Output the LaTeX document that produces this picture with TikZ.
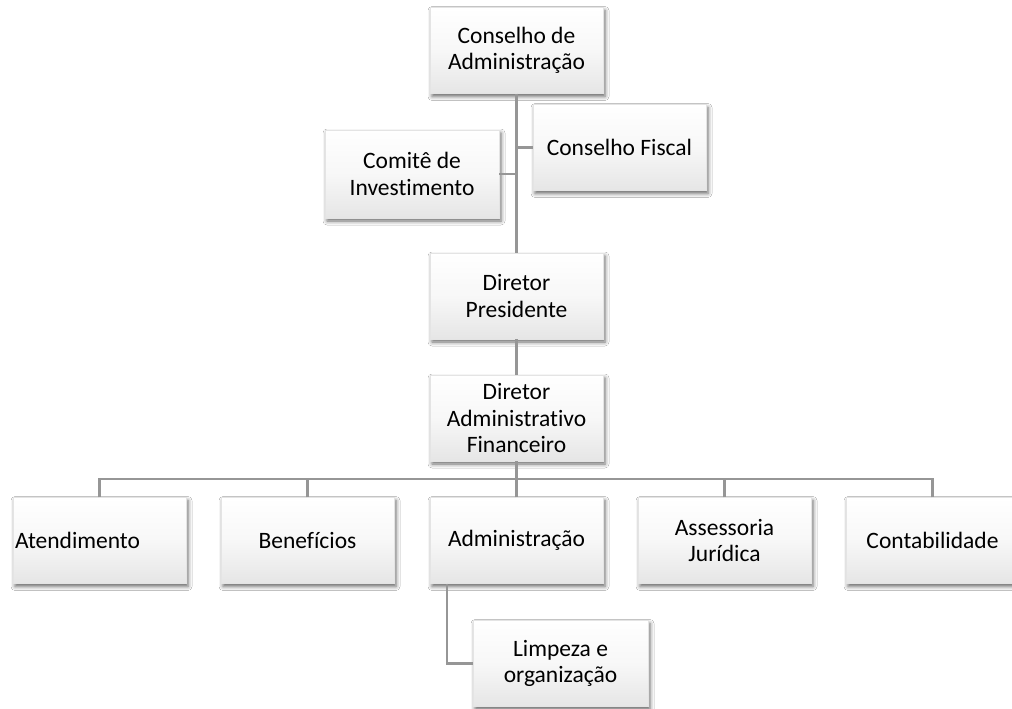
\documentclass[tikz,border=0pt]{standalone}
\usepackage{fontspec}
\setmainfont{Carlito}[Ligatures=CommonOff]
\usetikzlibrary{shadows.blur}
\definecolor{linegray}{RGB}{150,150,150}
\definecolor{boxedge}{RGB}{228,228,228}
\tikzset{
  orgbox/.style={rectangle, minimum width=173pt, minimum height=86pt, inner sep=1pt,
    align=center, draw=boxedge, line width=0.3pt,
    top color=white, bottom color=black!10, middle color=white!97!black,
    blur shadow={shadow xshift=2pt, shadow yshift=-3pt, shadow blur radius=4pt, shadow opacity=60},
    font=\fontsize{23.5}{26.5}\selectfont},
  conn/.style={draw=linegray, line width=2.6pt}
}
\begin{document}
\begin{tikzpicture}[x=1pt,y=-1pt]
\useasboundingbox[fill=white] (0,0) rectangle (1012,709);
\coordinate (bus) at (516.5,479);
\node[orgbox] (ca) at (516.5,50.5) {Conselho de\\Administração};
\node[orgbox] (cf) at (619.5,147.5) {Conselho Fiscal};
\node[orgbox, minimum width=174pt, minimum height=88pt] (ci) at (412,174) {Comitê de\\Investimento};
\node[orgbox] (dp) at (516.5,296) {Diretor\\Presidente};
\node[orgbox] (da) at (516.5,418) {Diretor\\Administrativo\\Financeiro};
\node[orgbox, text width=169pt, inner xsep=2pt, align=left] (at) at (99.5,540.5) {Atendimento};
\node[orgbox] (be) at (307.5,540.5) {Benefícios};
\node[orgbox] (ad) at (516.5,540.5) {Administração};
\node[orgbox] (as) at (724.5,540.5) {Assessoria\\Jurídica};
\node[orgbox] (co) at (932.5,540.5) {Contabilidade};
\node[orgbox, minimum width=175pt] (lo) at (560.5,663.5) {Limpeza e\\organização};
\draw[conn] (ca.south) -- (dp.north);
\draw[conn] (cf.west) -- (cf.west -| ca.south);
\draw[conn] (ci.east) -- (ci.east -| ca.south);
\draw[conn] (dp.south) -- (da.north);
\draw[conn] (da.south) -- (bus);
\draw[conn] (at.north) |- (bus);
\draw[conn] (be.north) |- (bus);
\draw[conn] (ad.north) -- (bus);
\draw[conn] (as.north) |- (bus);
\draw[conn] (co.north) |- (bus);
\draw[conn] ([xshift=-69.5pt]ad.south) |- (lo.west);
\end{tikzpicture}
\end{document}
